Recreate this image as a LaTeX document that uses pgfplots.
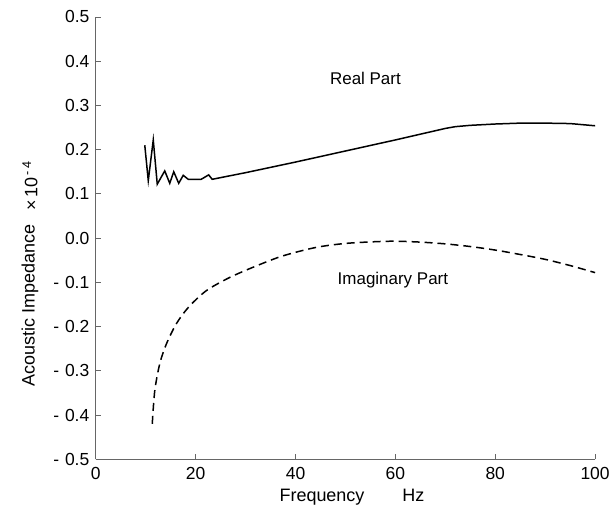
\documentclass[border=0pt]{standalone}
\usepackage{pgfplots}
\pgfplotsset{compat=1.18}
\usepackage{fontspec}
\setmainfont{Liberation Sans}
\begin{document}
\begin{tikzpicture}
\begin{axis}[
  scale only axis, width=500pt, height=443pt,
  xmin=0, xmax=100, ymin=-0.5, ymax=0.5,
  axis lines=left, axis line style={-, black!60, line width=0.8pt},
  tick style={black!60, line width=0.8pt}, tick align=inside, major tick length=5pt,
  xtick={0,20,40,60,80,100}, xticklabels={0,20,40,60,80,100},
  ytick={-0.5,-0.4,-0.3,-0.2,-0.1,0,0.1,0.2,0.3,0.4,0.5},
  yticklabels={-\,\,0.5,-\,\,0.4,-\,\,0.3,-\,\,0.2,-\,\,0.1,0.0,0.1,0.2,0.3,0.4,0.5},
  ticklabel style={font=\fontsize{17.5}{20}\selectfont},
  xticklabel style={yshift=-4pt},
  yticklabel style={xshift=-3pt},
  clip=false,
]
\addplot[black, line width=1.5pt, line join=miter] coordinates {
(9.8,0.21)(10.5,0.13)(11.5,0.222)(12.3,0.122)(13.8,0.152)(14.8,0.124)(15.6,0.15)(16.6,0.124)(17.5,0.142)(18.5,0.133)(21.1,0.133)(22.6,0.143)(23.3,0.133)(30,0.148)(40,0.172)(50,0.197)(60,0.222)(70,0.248)(72,0.252)(75,0.255)(80,0.258)(85,0.26)(90,0.26)(95,0.259)(100,0.254)
};
\addplot[black, line width=1.5pt, dash pattern=on 8pt off 5pt, smooth] coordinates {
(11.3,-0.42)(11.8,-0.345)(12.8,-0.284)(14.1,-0.24)(16.1,-0.194)(18.5,-0.157)(22.1,-0.119)(26.8,-0.089)(32.1,-0.063)(37.5,-0.040)(44.1,-0.021)(50,-0.012)(56.1,-0.008)(60,-0.007)(65,-0.009)(70,-0.013)(75,-0.019)(80,-0.027)(85,-0.037)(90,-0.048)(95,-0.062)(100,-0.078)
};
\node[font=\fontsize{17}{20}\selectfont] at (axis cs:54,0.36) {Real Part};
\node[font=\fontsize{17}{20}\selectfont] at (axis cs:59.5,-0.095) {Imaginary Part};
\node[font=\fontsize{18}{21}\selectfont, rotate=90] at (axis cs:-13.2,-0.153) {Acoustic Impedance};
\node[font=\fontsize{18}{21}\selectfont, rotate=90] at (axis cs:-13.2,0.118) {×\,10\textsuperscript{\,-\,4}};
\node[font=\fontsize{18}{21}\selectfont] at (axis cs:51.3,-0.5) [yshift=-38pt] {Frequency\hspace{38pt}Hz};
\coordinate (sw) at (rel axis cs:0,0);
\coordinate (ne) at (rel axis cs:1,1);
\end{axis}
\path ([shift={(-96pt,-51pt)}]sw) rectangle ([shift={(17pt,17pt)}]ne);
\end{tikzpicture}
\end{document}
